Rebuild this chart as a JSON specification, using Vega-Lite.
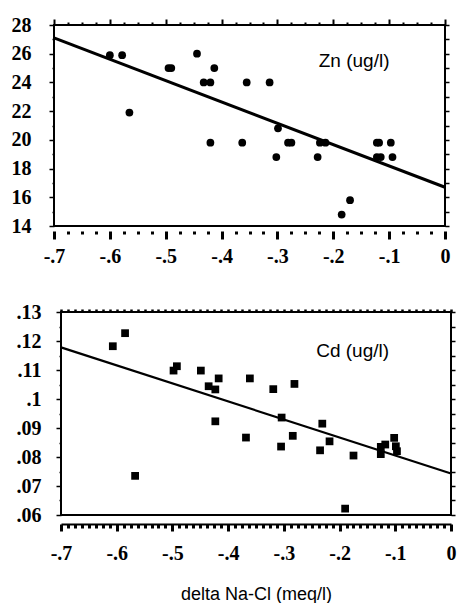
{
  "$schema": "https://vega.github.io/schema/vega-lite/v6.json",
  "background": "white",
  "padding": {"left": 10, "top": 14, "right": 2, "bottom": 0},
  "spacing": 35,
  "config": {
    "view": {"stroke": "black", "strokeWidth": 2},
    "axis": {
      "labelFont": "Liberation Serif", "labelFontWeight": "bold", "labelFontSize": 20, "labelColor": "black",
      "tickColor": "black", "domainColor": "black", "grid": false, "labelFlush": false, "labelOverlap": false,
      "titleFont": "Liberation Sans", "titleFontWeight": "normal", "titleFontSize": 18, "titleColor": "black"
    }
  },
  "datasets": {
    "zn": [
      {"x": -0.6, "zn": 25.9}, {"x": -0.578, "zn": 25.9}, {"x": -0.565, "zn": 21.9},
      {"x": -0.495, "zn": 25}, {"x": -0.49, "zn": 25}, {"x": -0.444, "zn": 26},
      {"x": -0.413, "zn": 25}, {"x": -0.432, "zn": 24}, {"x": -0.42, "zn": 24},
      {"x": -0.42, "zn": 19.8}, {"x": -0.355, "zn": 24}, {"x": -0.363, "zn": 19.8},
      {"x": -0.314, "zn": 24}, {"x": -0.299, "zn": 20.8}, {"x": -0.302, "zn": 18.8},
      {"x": -0.281, "zn": 19.8}, {"x": -0.275, "zn": 19.8}, {"x": -0.228, "zn": 18.8},
      {"x": -0.224, "zn": 19.8}, {"x": -0.214, "zn": 19.8}, {"x": -0.185, "zn": 14.8},
      {"x": -0.17, "zn": 15.8}, {"x": -0.122, "zn": 19.8}, {"x": -0.118, "zn": 19.8},
      {"x": -0.122, "zn": 18.8}, {"x": -0.115, "zn": 18.8}, {"x": -0.097, "zn": 19.8},
      {"x": -0.094, "zn": 18.8}
    ],
    "cd": [
      {"x": -0.607, "cd": 0.1182}, {"x": -0.585, "cd": 0.1227}, {"x": -0.567, "cd": 0.0735},
      {"x": -0.498, "cd": 0.1098}, {"x": -0.492, "cd": 0.1113}, {"x": -0.449, "cd": 0.1098},
      {"x": -0.435, "cd": 0.1044}, {"x": -0.423, "cd": 0.1033}, {"x": -0.417, "cd": 0.1071},
      {"x": -0.423, "cd": 0.0923}, {"x": -0.368, "cd": 0.0867}, {"x": -0.361, "cd": 0.1071},
      {"x": -0.319, "cd": 0.1034}, {"x": -0.304, "cd": 0.0936}, {"x": -0.305, "cd": 0.0836},
      {"x": -0.284, "cd": 0.0873}, {"x": -0.281, "cd": 0.1052}, {"x": -0.231, "cd": 0.0915},
      {"x": -0.235, "cd": 0.0823}, {"x": -0.218, "cd": 0.0854}, {"x": -0.175, "cd": 0.0805},
      {"x": -0.19, "cd": 0.0622}, {"x": -0.126, "cd": 0.0835}, {"x": -0.118, "cd": 0.0843},
      {"x": -0.126, "cd": 0.081}, {"x": -0.102, "cd": 0.0866}, {"x": -0.099, "cd": 0.0837},
      {"x": -0.097, "cd": 0.082}
    ],
    "znfit": [{"x": -0.7, "zn": 27.1}, {"x": 0, "zn": 16.7}],
    "cdfit": [{"x": -0.7, "cd": 0.1178}, {"x": 0, "cd": 0.0743}],
    "znlabel": [{"label": "Zn (ug/l)"}],
    "cdlabel": [{"label": "Cd (ug/l)"}]
  },
  "vconcat": [
    {
      "width": 391,
      "height": 201,
      "layer": [
        {
          "data": {"name": "znfit"},
          "mark": {"type": "line", "color": "black", "strokeWidth": 3},
          "encoding": {
            "x": {"field": "x", "type": "quantitative", "scale": {"domain": [-0.7, 0], "nice": false, "zero": false},
              "axis": {"orient": "bottom", "title": null, "offset": 5, "domain": false, "tickWidth": 3,
                "labelFont": "Liberation Serif", "labelFontWeight": "bold", "labelFontSize": 20,
                "values": [-0.7, -0.675, -0.65, -0.625, -0.6, -0.575, -0.55, -0.525, -0.5, -0.475, -0.45, -0.425, -0.4, -0.375, -0.35, -0.325, -0.3, -0.275, -0.25, -0.225, -0.2, -0.175, -0.15, -0.125, -0.1, -0.075, -0.05, -0.025, 0],
                "tickSize": {"condition": {"test": "round(datum.value*1000) % 100 == 0", "value": 8}, "value": 3},
                "labelPadding": 7,
                "labelExpr": "round(datum.value*1000) % 100 == 0 ? (datum.value < 0 ? '-' : '') + replace(format(abs(datum.value), '~g'), '0.', '.') : ''"}},
            "y": {"field": "zn", "type": "quantitative", "scale": {"domain": [14, 28], "nice": false, "zero": false},
              "axis": {"orient": "left", "title": null, "domain": false, "tickWidth": 1.5,
                "labelFont": "Liberation Serif", "labelFontWeight": "bold", "labelFontSize": 20,
                "values": [14, 15, 16, 17, 18, 19, 20, 21, 22, 23, 24, 25, 26, 27, 28],
                "tickSize": {"condition": {"test": "datum.value % 2 == 0", "value": 5}, "value": 2},
                "labelPadding": 18,
                "labelExpr": "datum.value % 2 == 0 ? format(datum.value, 'd') : ''"}}
          }
        },
        {
          "data": {"name": "zn"},
          "mark": {"type": "circle", "color": "black", "opacity": 1, "size": 60},
          "encoding": {
            "x": {"field": "x", "type": "quantitative",
              "axis": {"orient": "top", "title": null, "domain": false, "labels": false, "tickWidth": 2,
                "values": [-0.7, -0.675, -0.65, -0.625, -0.6, -0.575, -0.55, -0.525, -0.5, -0.475, -0.45, -0.425, -0.4, -0.375, -0.35, -0.325, -0.3, -0.275, -0.25, -0.225, -0.2, -0.175, -0.15, -0.125, -0.1, -0.075, -0.05, -0.025, 0],
                "tickSize": {"condition": {"test": "round(datum.value*1000) % 100 == 0", "value": 6}, "value": 3}}},
            "y": {"field": "zn", "type": "quantitative",
              "axis": {"orient": "right", "title": null, "domain": false, "labels": false, "tickWidth": 1.5, "tickSize": 4,
                "values": [14, 15, 16, 17, 18, 19, 20, 21, 22, 23, 24, 25, 26, 27, 28]}}
          }
        },
        {
          "data": {"name": "znlabel"},
          "mark": {"type": "text", "align": "left", "baseline": "middle", "font": "Liberation Sans", "fontSize": 19, "color": "black"},
          "encoding": {
            "x": {"datum": -0.226, "type": "quantitative", "axis": null},
            "y": {"datum": 25.47, "type": "quantitative", "axis": null},
            "text": {"field": "label"}
          }
        }
      ],
      "resolve": {"axis": {"x": "independent", "y": "independent"}}
    },
    {
      "width": 397,
      "height": 203,
      "view": {"stroke": null},
      "layer": [
        {
          "data": {"name": "cdlabel"},
          "mark": {"type": "rect", "fill": null, "fillOpacity": 0, "stroke": "black", "strokeWidth": 2},
          "encoding": {
            "x": {"datum": -0.7, "type": "quantitative", "axis": null},
            "x2": {"datum": 0},
            "y": {"datum": 0.06, "type": "quantitative", "axis": null},
            "y2": {"datum": 0.13}
          }
        },
        {
          "data": {"name": "cdfit"},
          "mark": {"type": "line", "color": "black", "strokeWidth": 2.2},
          "encoding": {
            "x": {"field": "x", "type": "quantitative", "scale": {"domain": [-0.7, 0], "range": [7, 397], "nice": false, "zero": false},
              "axis": {"orient": "bottom", "title": "delta Na-Cl (meq/l)", "titlePadding": 22, "offset": 9, "domain": true, "domainWidth": 2, "tickWidth": 3,
                "labelFont": "Liberation Serif", "labelFontWeight": "bold", "labelFontSize": 20,
                "values": [-0.7, -0.6875, -0.675, -0.6625, -0.65, -0.6375, -0.625, -0.6125, -0.6, -0.5875, -0.575, -0.5625, -0.55, -0.5375, -0.525, -0.5125, -0.5, -0.4875, -0.475, -0.4625, -0.45, -0.4375, -0.425, -0.4125, -0.4, -0.3875, -0.375, -0.3625, -0.35, -0.3375, -0.325, -0.3125, -0.3, -0.2875, -0.275, -0.2625, -0.25, -0.2375, -0.225, -0.2125, -0.2, -0.1875, -0.175, -0.1625, -0.15, -0.1375, -0.125, -0.1125, -0.1, -0.0875, -0.075, -0.0625, -0.05, -0.0375, -0.025, -0.0125, 0],
                "tickSize": {"condition": {"test": "round(datum.value*10000) % 1000 == 0", "value": 7}, "value": 4},
                "labelPadding": 12,
                "labelExpr": "round(datum.value*10000) % 1000 == 0 ? (datum.value < 0 ? '-' : '') + replace(format(abs(datum.value), '~g'), '0.', '.') : ''"}},
            "y": {"field": "cd", "type": "quantitative", "scale": {"domain": [0.06, 0.13], "nice": false, "zero": false},
              "axis": {"orient": "left", "title": null, "domain": false, "tickWidth": 1.5, "offset": -7,
                "labelFont": "Liberation Serif", "labelFontWeight": "bold", "labelFontSize": 20,
                "values": [0.06, 0.065, 0.07, 0.075, 0.08, 0.085, 0.09, 0.095, 0.1, 0.105, 0.11, 0.115, 0.12, 0.125, 0.13],
                "tickSize": {"condition": {"test": "round(datum.value*1000) % 10 == 0", "value": 5}, "value": 2},
                "labelPadding": 15,
                "labelExpr": "round(datum.value*1000) % 10 == 0 ? replace(format(datum.value, '~g'), '0.', '.') : ''"}}
          }
        },
        {
          "data": {"name": "cd"},
          "mark": {"type": "square", "color": "black", "opacity": 1, "filled": true, "size": 60},
          "encoding": {
            "x": {"field": "x", "type": "quantitative",
              "axis": {"orient": "top", "title": null, "domain": false, "labels": false, "tickWidth": 2.5, "tickSize": 3,
                "values": [-0.7, -0.6875, -0.675, -0.6625, -0.65, -0.6375, -0.625, -0.6125, -0.6, -0.5875, -0.575, -0.5625, -0.55, -0.5375, -0.525, -0.5125, -0.5, -0.4875, -0.475, -0.4625, -0.45, -0.4375, -0.425, -0.4125, -0.4, -0.3875, -0.375, -0.3625, -0.35, -0.3375, -0.325, -0.3125, -0.3, -0.2875, -0.275, -0.2625, -0.25, -0.2375, -0.225, -0.2125, -0.2, -0.1875, -0.175, -0.1625, -0.15, -0.1375, -0.125, -0.1125, -0.1, -0.0875, -0.075, -0.0625, -0.05, -0.0375, -0.025, -0.0125, 0]}},
            "y": {"field": "cd", "type": "quantitative",
              "axis": {"orient": "right", "title": null, "domain": false, "labels": false, "tickWidth": 1.5, "tickSize": 4,
                "values": [0.06, 0.065, 0.07, 0.075, 0.08, 0.085, 0.09, 0.095, 0.1, 0.105, 0.11, 0.115, 0.12, 0.125, 0.13]}}
          }
        },
        {
          "data": {"name": "cdlabel"},
          "mark": {"type": "text", "align": "left", "baseline": "middle", "font": "Liberation Sans", "fontSize": 19, "color": "black"},
          "encoding": {
            "x": {"datum": -0.242, "type": "quantitative", "axis": null},
            "y": {"datum": 0.1167, "type": "quantitative", "axis": null},
            "text": {"field": "label"}
          }
        }
      ],
      "resolve": {"axis": {"x": "independent", "y": "independent"}}
    }
  ]
}
